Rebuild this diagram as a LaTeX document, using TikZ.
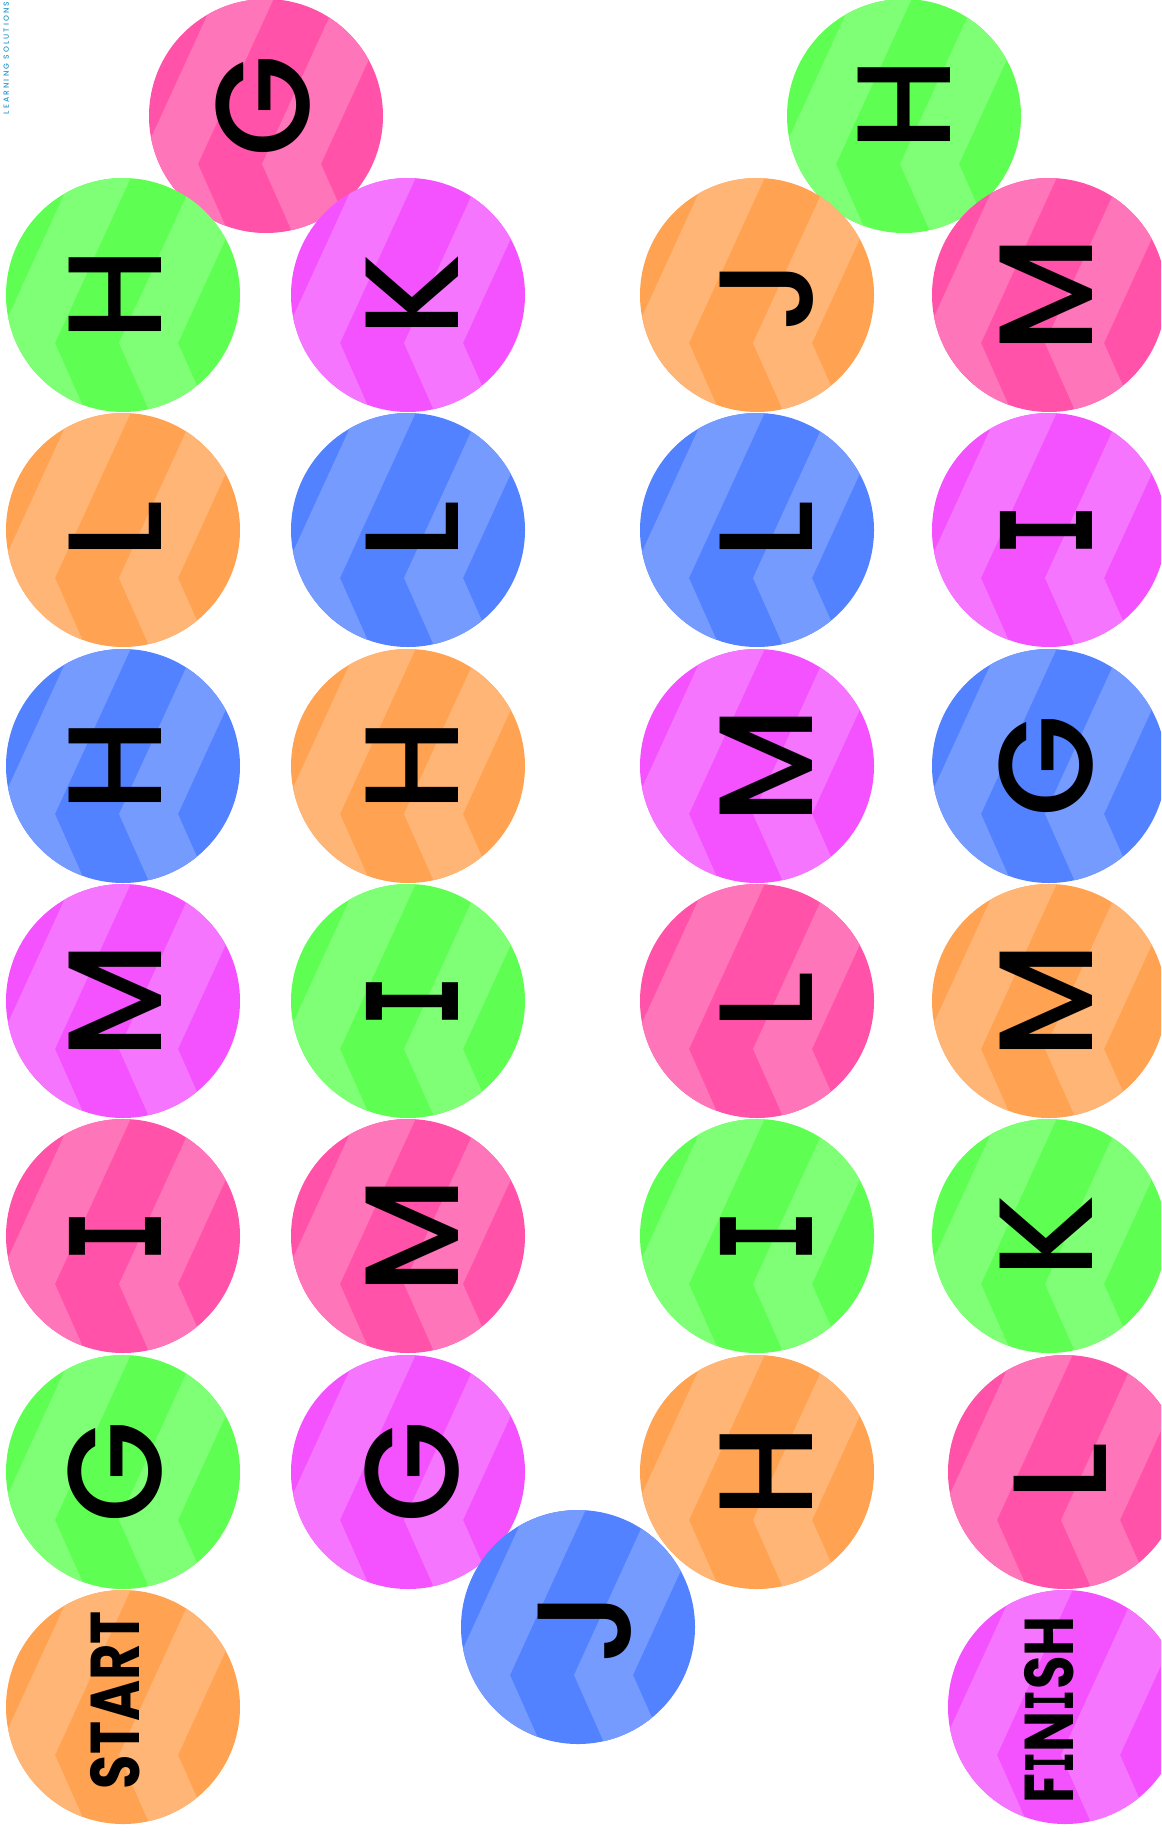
\documentclass[tikz,border=0pt]{standalone}
\usepackage{fontspec}
\usepackage{graphicx}
\usepackage{tikz}
\usetikzlibrary{calc}

\IfFontExistsTF{Poppins Medium}
  {\newfontfamily\lettersf{Poppins Medium}}
  {\newfontfamily\lettersfbase{Poppins}\newcommand{\lettersf}{\lettersfbase\bfseries}}
\newfontfamily\wordsfbase{Poppins}
\newcommand{\wordsf}{\wordsfbase\bfseries}
\newfontfamily\slabfont{DejaVu Sans Mono}
\IfFontExistsTF{Poppins Medium}
  {\newfontfamily\brandsf{Poppins Medium}[LetterSpace=28]}
  {\newfontfamily\brandsf{Poppins}[LetterSpace=28]}
\newcommand{\serifI}{\scalebox{0.65}[0.95]{\slabfont\bfseries I}}

\definecolor{spotgreen}{RGB}{94,255,82}
\definecolor{spotpink}{RGB}{255,82,168}
\definecolor{spotmagenta}{RGB}{244,82,255}
\definecolor{spotorange}{RGB}{255,163,82}
\definecolor{spotblue}{RGB}{82,130,255}
\definecolor{brandblue}{RGB}{40,150,200}

\begin{document}
\begin{tikzpicture}[
    x=1pt, y=-1pt,
    spot/.style={circle, inner sep=0pt, minimum size=234pt, fill=#1,
        path picture={
            \fill[#1!80!white, shift={(path picture bounding box.center)}]
                (-50,-120) -- (-127,48) -- (-95,120) -- (-36,120) -- (-68,48) -- (9,-120) -- cycle
                (73,-120) -- (-4,48) -- (28,120) -- (87,120) -- (55,48) -- (132,-120) -- cycle;
        }},
    letter/.style={rotate=90, anchor=base, inner sep=0pt,
                   font=\lettersf\fontsize{133}{133}\selectfont},
    word/.style={letter, font=\wordsf\fontsize{69}{69}\selectfont},
    brand/.style={rotate=90, anchor=base, inner sep=0pt, text=brandblue,
                  font=\brandsf\fontsize{7.5}{7.5}\selectfont}
]
\useasboundingbox (0,0) rectangle (1161,1835);
\clip (0,0) rectangle (1161,1835);

% ---- Top spots ----
\node[spot=spotpink]    (b0) at (266,116)  {};
\node[spot=spotgreen]   (c0) at (904,116)  {};

% ---- Column A (start) ----
\node[spot=spotgreen]   (a1) at (123,295)  {};
\node[spot=spotorange]  (a2) at (123,530)  {};
\node[spot=spotblue]    (a3) at (123,766)  {};
\node[spot=spotmagenta] (a4) at (123,1001) {};
\node[spot=spotpink]    (a5) at (123,1236) {};
\node[spot=spotgreen]   (a6) at (123,1472) {};
\node[spot=spotorange]  (a7) at (123,1707) {};

% ---- Column B ----
\node[spot=spotmagenta] (b1) at (408,295)  {};
\node[spot=spotblue]    (b2) at (408,530)  {};
\node[spot=spotorange]  (b3) at (408,766)  {};
\node[spot=spotgreen]   (b4) at (408,1001) {};
\node[spot=spotpink]    (b5) at (408,1236) {};
\node[spot=spotmagenta] (b6) at (408,1472) {};
\node[spot=spotblue]    (bj) at (578,1627) {};

% ---- Column C ----
\node[spot=spotorange]  (c1) at (757,295)  {};
\node[spot=spotblue]    (c2) at (757,530)  {};
\node[spot=spotmagenta] (c3) at (757,766)  {};
\node[spot=spotpink]    (c4) at (757,1001) {};
\node[spot=spotgreen]   (c5) at (757,1236) {};
\node[spot=spotorange]  (c6) at (757,1472) {};

% ---- Column D (finish) ----
\node[spot=spotpink]    (d1) at (1049,295)  {};
\node[spot=spotmagenta] (d2) at (1049,530)  {};
\node[spot=spotblue]    (d3) at (1049,766)  {};
\node[spot=spotorange]  (d4) at (1049,1001) {};
\node[spot=spotgreen]   (d5) at (1049,1236) {};
\node[spot=spotpink]    (d6) at (1065,1472) {};
\node[spot=spotmagenta] (d7) at (1065,1707) {};

% ---- Letters ----
\node[letter] at ($(b0)+(43,-10)$) {G};
\node[letter] at ($(c0)+(46,-11)$) {H};

\node[letter] at ($(a1)+(38,0)$) {H};
\node[letter] at ($(a2)+(38,0)$) {L};
\node[letter] at ($(a3)+(38,0)$) {H};
\node[letter] at ($(a4)+(38,0)$) {M};
\node[letter] at ($(a5)+(38,0)$) {\serifI};
\node[letter] at ($(a6)+(38,0)$) {G};
\node[word]   at ($(a7)+(16,-7)$) {\scalebox{0.81}[1]{START}};

\node[letter] at ($(b1)+(50,0)$) {K};
\node[letter] at ($(b2)+(50,0)$) {L};
\node[letter] at ($(b3)+(50,0)$) {H};
\node[letter] at ($(b4)+(50,0)$) {\serifI};
\node[letter] at ($(b5)+(50,0)$) {M};
\node[letter] at ($(b6)+(50,0)$) {G};
\node[letter] at ($(bj)+(52,0)$) {J};

\node[letter] at ($(c1)+(55,0)$) {J};
\node[letter] at ($(c2)+(55,0)$) {L};
\node[letter] at ($(c3)+(55,0)$) {M};
\node[letter] at ($(c4)+(55,0)$) {L};
\node[letter] at ($(c5)+(55,0)$) {\serifI};
\node[letter] at ($(c6)+(55,0)$) {H};

\node[letter] at ($(d1)+(43,0)$) {M};
\node[letter] at ($(d2)+(43,0)$) {\serifI};
\node[letter] at ($(d3)+(43,0)$) {G};
\node[letter] at ($(d4)+(43,0)$) {M};
\node[letter] at ($(d5)+(43,0)$) {K};
\node[letter] at ($(d6)+(41,0)$) {L};
\node[word]   at ($(d7)+(8,3)$) {\scalebox{0.79}[1]{F\serifI N\serifI SH}};

% ---- Brand mark ----
\node[brand] (brandmark) at (9,58) {LEARNING SOLUTIONS};
\end{tikzpicture}
\end{document}
